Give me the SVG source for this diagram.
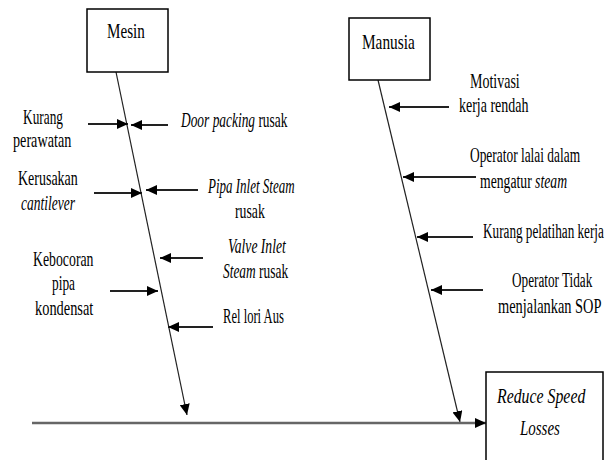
<svg xmlns="http://www.w3.org/2000/svg" width="605" height="460" viewBox="0 0 605 460">
<style>
text{font-family:"Liberation Serif","Times New Roman",serif;font-size:20px;fill:#000}
.it{font-style:italic}
.big{font-size:21px}
.box{fill:#fff;stroke:#000;stroke-width:1.5}
.spine{stroke:#222;stroke-width:1.2;fill:none}
.arr{stroke:#222;stroke-width:2;fill:none}
.main{stroke:#666;stroke-width:2.5;fill:none}
</style>
<defs>
<marker id="ah" markerUnits="userSpaceOnUse" markerWidth="12" markerHeight="10" refX="11" refY="5" orient="auto">
<path d="M0,0 L11,5 L0,10 Z" fill="#000"/>
</marker>
</defs>
<rect width="605" height="460" fill="#fff"/>
<g id="connectors">
<line class="spine" x1="116" y1="72" x2="187" y2="415" marker-end="url(#ah)"/>
<line class="spine" x1="378" y1="80" x2="460" y2="422" marker-end="url(#ah)"/>
<line class="main" x1="32" y1="423" x2="486" y2="423" marker-end="url(#ah)"/>
<line class="arr" x1="88" y1="124" x2="128" y2="124" marker-end="url(#ah)"/>
<line class="arr" x1="168" y1="125" x2="131" y2="125" marker-end="url(#ah)"/>
<line class="arr" x1="94" y1="193" x2="142" y2="193" marker-end="url(#ah)"/>
<line class="arr" x1="198" y1="190" x2="146" y2="190" marker-end="url(#ah)"/>
<line class="arr" x1="203" y1="258" x2="160" y2="258" marker-end="url(#ah)"/>
<line class="arr" x1="110" y1="291" x2="158" y2="291" marker-end="url(#ah)"/>
<line class="arr" x1="213" y1="327" x2="168" y2="327" marker-end="url(#ah)"/>
<line class="arr" x1="449" y1="107" x2="389" y2="107" marker-end="url(#ah)"/>
<line class="arr" x1="476" y1="177" x2="403" y2="177" marker-end="url(#ah)"/>
<line class="arr" x1="473" y1="237" x2="417" y2="237" marker-end="url(#ah)"/>
<line class="arr" x1="483" y1="290" x2="431" y2="290" marker-end="url(#ah)"/>
</g>
<g id="mesin">
<rect class="box" x="87" y="9" width="81" height="63"/>
<text class="big" transform="translate(107 38) scale(0.72 1)">Mesin</text>
</g>
<g id="manusia">
<rect class="box" x="349" y="18" width="81" height="62"/>
<text class="big" transform="translate(362 49) scale(0.73 1)">Manusia</text>
</g>
<g id="reduce">
<rect class="box" x="486" y="372" width="117" height="100"/>
<text class="it" style="font-size:22px" transform="translate(497 403) scale(0.72 1)">Reduce Speed</text>
<text class="it" style="font-size:22px" transform="translate(520 435) scale(0.68 1)">Losses</text>
</g>
<g id="kurang-perawatan">
<text transform="translate(23 124) scale(0.667 1)">Kurang</text>
<text transform="translate(13 147) scale(0.71 1)">perawatan</text>
</g>
<g id="door-packing">
<text transform="translate(181 127) scale(0.67 1)"><tspan class="it">Door packing</tspan> rusak</text>
</g>
<g id="kerusakan-cantilever">
<text transform="translate(18 185) scale(0.70 1)">Kerusakan</text>
<text class="it" transform="translate(21 210) scale(0.675 1)">cantilever</text>
</g>
<g id="pipa-inlet">
<text class="it" transform="translate(208 193) scale(0.65 1)">Pipa Inlet Steam</text>
<text transform="translate(235 218) scale(0.69 1)">rusak</text>
</g>
<g id="valve-inlet">
<text class="it" transform="translate(228 253) scale(0.68 1)">Valve Inlet</text>
<text transform="translate(223 278) scale(0.67 1)"><tspan class="it">Steam</tspan> rusak</text>
</g>
<g id="kebocoran">
<text transform="translate(33 266) scale(0.69 1)">Kebocoran</text>
<text transform="translate(52 290) scale(0.67 1)">pipa</text>
<text transform="translate(35 315) scale(0.72 1)">kondensat</text>
</g>
<g id="rel-lori">
<text transform="translate(223 323) scale(0.63 1)">Rel lori Aus</text>
</g>
<g id="motivasi">
<text transform="translate(470 88) scale(0.70 1)">Motivasi</text>
<text transform="translate(459 112) scale(0.70 1)">kerja rendah</text>
</g>
<g id="operator-lalai">
<text transform="translate(470 162) scale(0.67 1)">Operator lalai dalam</text>
<text transform="translate(480 188) scale(0.685 1)">mengatur <tspan class="it">steam</tspan></text>
</g>
<g id="kurang-pelatihan">
<text transform="translate(483 238) scale(0.66 1)">Kurang pelatihan kerja</text>
</g>
<g id="operator-tidak">
<text transform="translate(512 287) scale(0.66 1)">Operator Tidak</text>
<text transform="translate(498 313) scale(0.72 1)">menjalankan SOP</text>
</g>
</svg>
